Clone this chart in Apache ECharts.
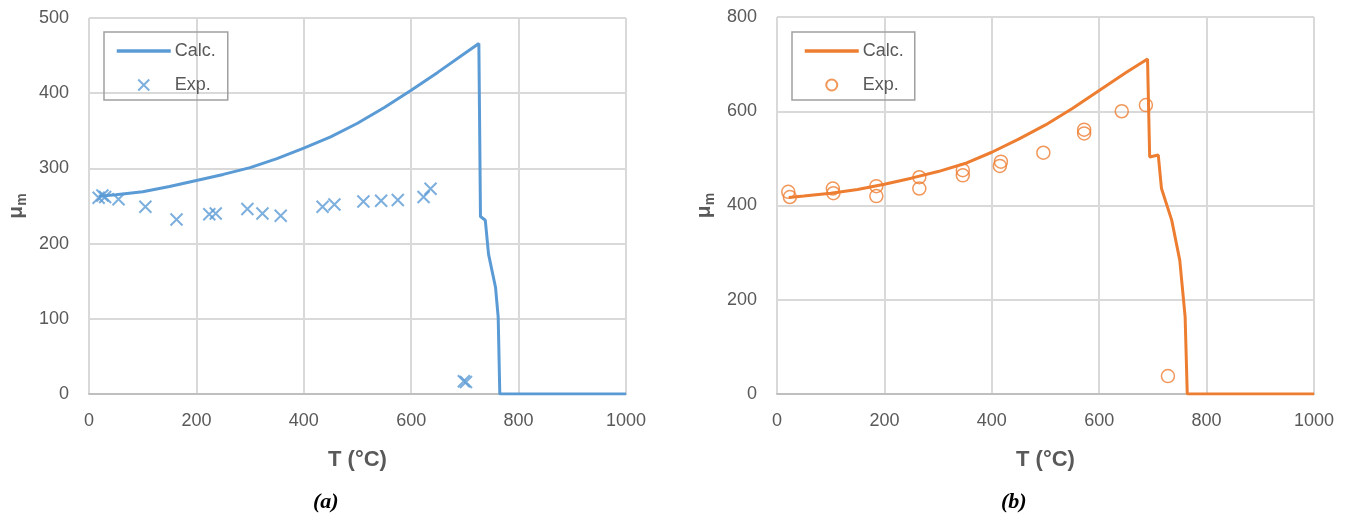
<!DOCTYPE html>
<html>
<head>
<meta charset="utf-8">
<script src="https://cdn.jsdelivr.net/npm/echarts@6/dist/echarts.min.js"></script>
<style>
html,body{margin:0;padding:0;background:#fff;}
#c{width:1357px;height:521px;}
</style>
</head>
<body>
<div id="c"></div>
<script>
// ---- Panel (a) data ----
const calcA_T  = [18, 50, 100, 150, 200, 250, 300, 350, 400, 450, 500, 550, 600, 650, 700, 726, 729, 738, 744, 757, 762, 765, 1000];
const calcA_mu = [263, 265, 269, 276, 284, 292, 301, 313, 327, 342, 360, 381, 404, 428, 453, 466, 236, 231, 186, 142, 102, 0, 0];
const expA_T   = [18, 25, 30, 55, 105, 163, 224, 236, 295, 323, 357, 435, 457, 511, 544, 575, 623, 636, 698, 702];
const expA_mu  = [261, 264, 262, 259, 249, 232, 239, 240, 246, 240, 237, 249, 252, 256, 257, 258, 262, 273, 17, 16];

// ---- Panel (b) data ----
const calcB_T  = [22, 50, 100, 150, 200, 250, 300, 350, 400, 450, 500, 550, 600, 650, 690, 694, 710, 716, 735, 750, 760, 764, 1000];
const calcB_mu = [417, 420, 426, 434, 445, 458, 472, 489, 513, 541, 571, 606, 644, 682, 711, 503, 507, 436, 369, 284, 164, 0, 0];
const expB_T   = [21, 24, 104, 105, 185, 185, 265, 265, 346, 346, 417, 415, 496, 572, 572, 642, 687, 728];
const expB_mu  = [429, 418, 436, 426, 441, 420, 460, 436, 475, 464, 493, 484, 512, 561, 553, 600, 613, 38];

// ---- axis ticks ----
const xTicks = {min: 0, max: 1000, interval: 200};
const yTicksA = {min: 0, max: 500, interval: 100};
const yTicksB = {min: 0, max: 800, interval: 200};

const xName = 'T (°C)';
const yName = '{mu|μ}{sub|m}';
const panelLabels = ['(a)', '(b)'];
const legendNames = ['Calc.', 'Exp.'];

const BLUE = '#5B9BD5', ORANGE = '#ED7D31';
const FONT = '"Liberation Sans", Arial, sans-serif';
const TXT = '#595959';
const GRID = '#d9d9d9';

const zip = (a, b) => a.map((v, i) => [v, b[i]]);

function xAxis(gi) {
  return {
    type: 'value', gridIndex: gi, min: xTicks.min, max: xTicks.max, interval: xTicks.interval,
    name: xName, nameLocation: 'middle', nameGap: 55,
    nameTextStyle: {fontFamily: FONT, fontSize: 22, fontWeight: 'bold', color: TXT},
    axisLine: {show: true, lineStyle: {color: '#bfbfbf', width: 2}},
    axisTick: {show: false},
    axisLabel: {fontFamily: FONT, fontSize: 18, color: TXT, margin: 18, formatter: v => String(v)},
    splitLine: {show: true, lineStyle: {color: GRID, width: 2}}
  };
}
function yAxis(gi, t) {
  return {
    type: 'value', gridIndex: gi, min: t.min, max: t.max, interval: t.interval,
    name: yName, nameLocation: 'middle', nameGap: 60, nameRotate: 90,
    nameTextStyle: {
      rich: {
        mu: {fontFamily: FONT, fontSize: 21, fontWeight: 'bold', color: TXT, lineHeight: 26},
        sub: {fontFamily: FONT, fontSize: 14, fontWeight: 'bold', color: TXT, verticalAlign: 'bottom', lineHeight: 6}
      }
    },
    axisLine: {show: false},
    axisTick: {show: false},
    axisLabel: {fontFamily: FONT, fontSize: 18, color: TXT, margin: 20, formatter: v => String(v)},
    splitLine: {show: true, lineStyle: {color: GRID, width: 2}}
  };
}
function legend(left, names, color, padRight) {
  return {
    left: left, top: 32, orient: 'vertical',
    data: [
      {name: names[0], itemStyle: {opacity: 0}, lineStyle: {width: 3.5, color: color}},
      {name: names[1]}
    ],
    itemWidth: 54, itemHeight: 11, itemGap: 16,
    padding: [10, padRight, 6, 11],
    borderColor: '#a0a0a0', borderWidth: 1.5,
    textStyle: {fontFamily: FONT, fontSize: 18, color: TXT, padding: [0, 0, 0, -1]},
    selectedMode: false
  };
}

const XPATH = 'path://M0,0L10,10M10,0L0,10';

const option = {
  animation: false,
  backgroundColor: '#fff',
  grid: [
    {left: 89, top: 18, width: 537, height: 376},
    {left: 777, top: 17, width: 537, height: 377}
  ],
  xAxis: [xAxis(0), xAxis(1)],
  yAxis: [yAxis(0, yTicksA), yAxis(1, yTicksB)],
  legend: [
    legend(104, [legendNames[0], legendNames[1]], BLUE, 12),
    legend(792, [legendNames[0] + ' ', legendNames[1] + ' '], ORANGE, 6)
  ],
  series: [
    {
      name: legendNames[0], type: 'line', xAxisIndex: 0, yAxisIndex: 0,
      data: zip(calcA_T, calcA_mu), symbol: 'none', showSymbol: false,
      lineStyle: {color: BLUE, width: 3}, itemStyle: {color: BLUE}, z: 2
    },
    {
      name: legendNames[1], type: 'scatter', xAxisIndex: 0, yAxisIndex: 0,
      data: zip(expA_T, expA_mu), symbol: XPATH, symbolSize: 12,
      itemStyle: {color: 'rgba(0,0,0,0)', borderColor: BLUE, borderWidth: 2}, z: 3
    },
    {
      name: legendNames[0] + ' ', type: 'line', xAxisIndex: 1, yAxisIndex: 1,
      data: zip(calcB_T, calcB_mu), symbol: 'none', showSymbol: false,
      lineStyle: {color: ORANGE, width: 3}, itemStyle: {color: ORANGE}, z: 2
    },
    {
      name: legendNames[1] + ' ', type: 'scatter', xAxisIndex: 1, yAxisIndex: 1,
      data: zip(expB_T, expB_mu), symbol: 'circle', symbolSize: 13,
      itemStyle: {color: 'rgba(0,0,0,0)', borderColor: ORANGE, borderWidth: 1.5}, z: 3
    }
  ],
  graphic: [
    {type: 'text', left: 313, top: 491, style: {text: panelLabels[0], font: 'italic bold 22px "Liberation Serif", serif', fill: '#000'}},
    {type: 'text', left: 1001, top: 491, style: {text: panelLabels[1], font: 'italic bold 22px "Liberation Serif", serif', fill: '#000'}}
  ]
};

const chart = echarts.init(document.getElementById('c'), null, {renderer: 'canvas'});
chart.setOption(option);
</script>
</body>
</html>
